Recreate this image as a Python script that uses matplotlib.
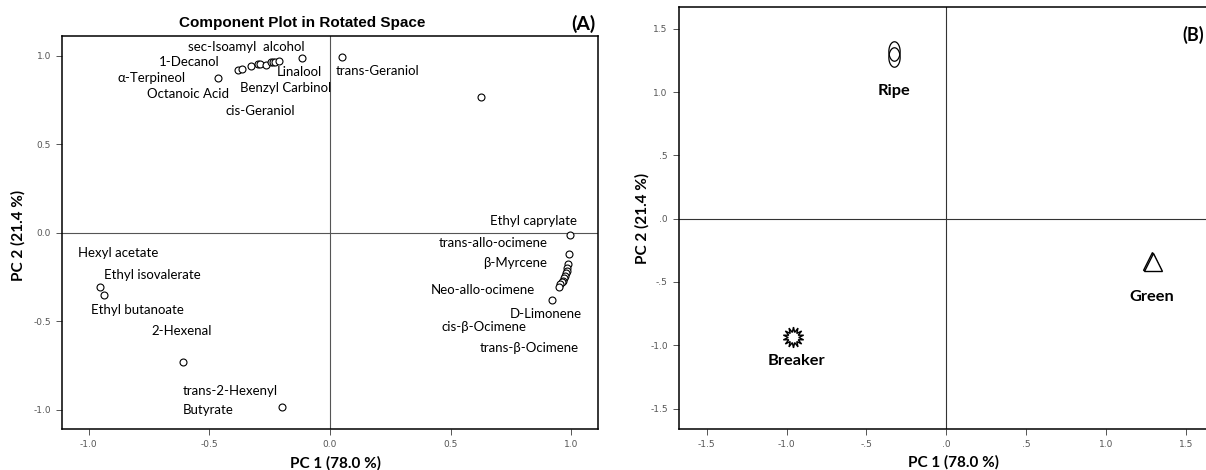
import matplotlib
matplotlib.use('Agg')
from matplotlib import pyplot as plt
from matplotlib.path import Path
import numpy as np

# loadings for panel A (PC1, PC2)
pc1_load = [-0.115, 0.048, 0.625, -0.464,
            -0.382, -0.363, -0.326, -0.299, -0.291, -0.267, -0.245, -0.235, -0.229, -0.212,
            0.995, 0.991, 0.984, 0.983, 0.981, 0.979, 0.975, 0.971, 0.966, 0.960, 0.954, 0.949, 0.919,
            -0.951, -0.935, -0.607, -0.199]
pc2_load = [0.991, 0.997, 0.767, 0.878,
            0.921, 0.929, 0.944, 0.952, 0.954, 0.948, 0.967, 0.967, 0.967, 0.972,
            -0.013, -0.122, -0.179, -0.198, -0.215, -0.230, -0.245, -0.258, -0.272, -0.281, -0.292, -0.306, -0.381,
            -0.309, -0.353, -0.730, -0.985]

compound_names = ['sec-Isoamyl  alcohol', '1-Decanol', 'α-Terpineol', 'Octanoic Acid', 'Linalool',
                  'Benzyl Carbinol', 'cis-Geraniol', 'trans-Geraniol', 'Ethyl caprylate',
                  'trans-allo-ocimene', 'β-Myrcene', 'Neo-allo-ocimene', 'D-Limonene',
                  'cis-β-Ocimene', 'trans-β-Ocimene', 'Hexyl acetate', 'Ethyl isovalerate',
                  'Ethyl butanoate', '2-Hexenal', 'trans-2-Hexenyl', 'Butyrate']
# where each name is written (left edge, middle)
name_pos = [(-0.588, 1.053), (-0.707, 0.968), (-0.882, 0.874), (-0.760, 0.784), (-0.220, 0.912),
            (-0.372, 0.818), (-0.432, 0.689), (0.024, 0.917), (0.663, 0.066),
            (0.450, -0.060), (0.633, -0.173), (0.417, -0.324), (0.744, -0.459),
            (0.461, -0.532), (0.620, -0.651), (-1.044, -0.117), (-0.938, -0.240),
            (-0.989, -0.438), (-0.739, -0.557), (-0.609, -0.895), (-0.609, -1.004)]

# scores for panel B
ripe_x = [-0.328, -0.328]
ripe_y = [1.326, 1.279]
breaker_x = [-0.958]
breaker_y = [-0.932]
green_x = [1.284, 1.292]
green_y = [-0.336, -0.344]
stage_names = ['Ripe', 'Breaker', 'Green']
stage_pos = [(-0.330, 1.010), (-0.940, -1.121), (1.285, -0.616)]

ticks_a = [-1.0, -0.5, 0.0, 0.5, 1.0]
tick_lab_a = ['-1.0', '-0.5', '0.0', '0.5', '1.0']
ticks_b = [-1.5, -1.0, -0.5, 0.0, 0.5, 1.0, 1.5]
tick_lab_b = ['-1.5', '-1.0', '-.5', '.0', '.5', '1.0', '1.5']

lab_font = 'Lato'
tick_col = '#555555'

fig = plt.figure(figsize=(12.06, 4.70), dpi=100)

#Panel A
ax = fig.add_axes([0.0514, 0.0872, 0.4445, 0.8362])
ax.axhline(0, color='#555555', lw=0.8, zorder=1)
ax.axvline(0, color='#555555', lw=0.8, zorder=1)
ax.plot(pc1_load, pc2_load, 'o', ms=5, mfc='white', mec='black', mew=0.8, zorder=3)
for name, (tx, ty) in zip(compound_names, name_pos):
    ax.text(tx, ty, name, ha='left', va='center', fontsize=9.5, family=lab_font)
ax.set_xlim(-1.11, 1.11)
ax.set_ylim(-1.11, 1.113)
ax.set_xticks(ticks_a)
ax.set_xticklabels(tick_lab_a)
ax.set_yticks(ticks_a)
ax.set_yticklabels(tick_lab_a)
ax.tick_params(labelsize=6.5, colors=tick_col, length=4, width=0.7, pad=4)
for s in ax.spines.values():
    s.set_linewidth(1.1)
fig.text(302/1206, 1-23/470, 'Component Plot in Rotated Space', ha='center', va='center',
         fontsize=11, fontweight='bold', family='Liberation Sans')
fig.text(596/1206, 1-24/470, '(A)', ha='right', va='center', fontsize=14, fontweight='bold', family=lab_font)
fig.text(18/1206, 1-235/470, 'PC 2 (21.4 %)', rotation=90, ha='center', va='center',
         fontsize=11, fontweight='bold', family=lab_font)
fig.text(335/1206, 1-463/470, 'PC 1 (78.0 %)', ha='center', va='center',
         fontsize=11, fontweight='bold', family=lab_font)

#Panel B
bx = fig.add_axes([0.5629, 0.0866, 0.4437, 0.8979])
bx.axhline(0, color='#333333', lw=0.8, zorder=1)
bx.axvline(0, color='#333333', lw=0.8, zorder=1)
# tall oval marker
t = np.linspace(0, 2*np.pi, 60)
oval = Path(np.column_stack([0.58*np.cos(t), np.sin(t)]))
bx.plot(ripe_x, ripe_y, linestyle='none', marker=oval, ms=14, mfc='none', mec='black', mew=0.9, zorder=3)
bx.plot(breaker_x, breaker_y, linestyle='none', marker=(14, 1, 0), ms=15, mfc='white', mec='black', mew=1.0, zorder=3)
bx.plot(green_x, green_y, linestyle='none', marker='^', ms=13, mfc='white', mec='black', mew=1.0, zorder=3)
for name, (tx, ty) in zip(stage_names, stage_pos):
    bx.text(tx, ty, name, ha='center', va='center', fontsize=11.8, fontweight='bold', family=lab_font)
bx.set_xlim(-1.674, 1.674)
bx.set_ylim(-1.663, 1.669)
bx.set_xticks(ticks_b)
bx.set_xticklabels(tick_lab_b)
bx.set_yticks(ticks_b)
bx.set_yticklabels(tick_lab_b)
bx.tick_params(labelsize=6.5, colors=tick_col, length=4, width=0.7, pad=4)
for s in bx.spines.values():
    s.set_linewidth(1.1)
fig.text(1204/1206, 1-35/470, '(B)', ha='right', va='center', fontsize=13, fontweight='bold', family=lab_font)
fig.text(642/1206, 1-218/470, 'PC 2 (21.4 %)', rotation=90, ha='center', va='center',
         fontsize=11, fontweight='bold', family=lab_font)
fig.text(953/1206, 1-462/470, 'PC 1 (78.0 %)', ha='center', va='center',
         fontsize=11, fontweight='bold', family=lab_font)

plt.savefig('out.png', dpi=100)
